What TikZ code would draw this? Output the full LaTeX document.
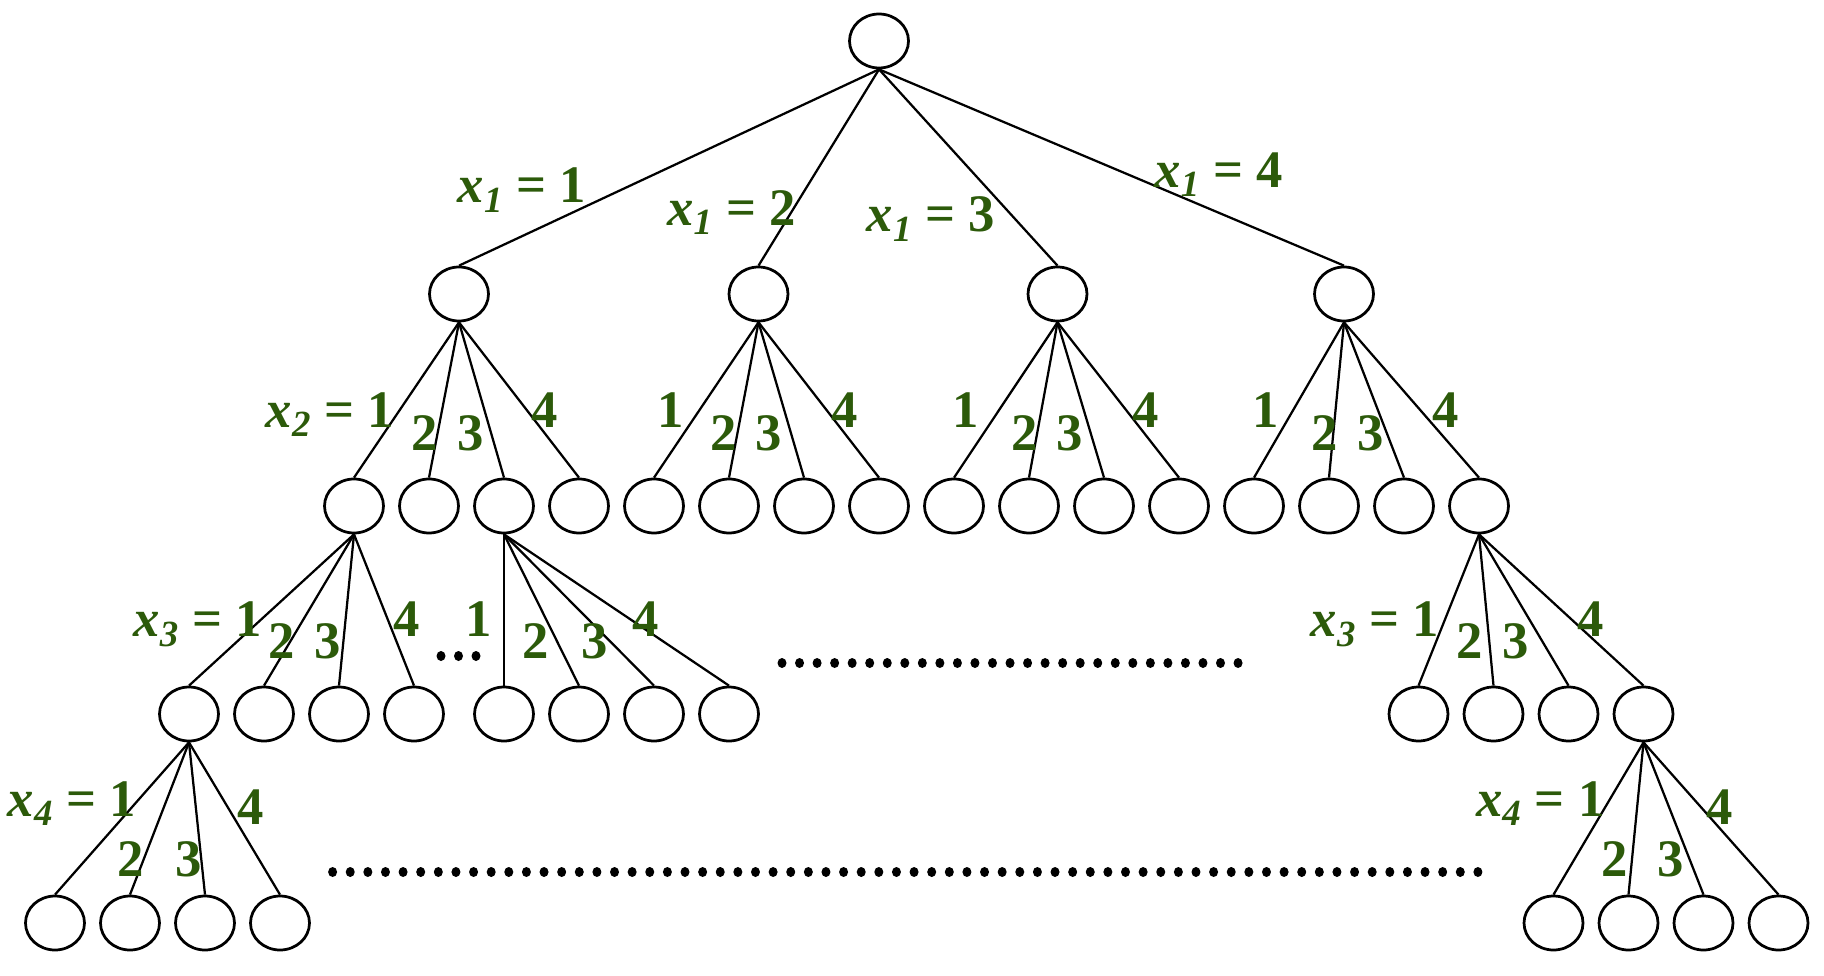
\documentclass[tikz,border=0pt]{standalone}
\usepackage{fontspec}
\setmainfont{Liberation Serif}
\usetikzlibrary{shapes.geometric}
\definecolor{labelgreen}{RGB}{44,90,10}

\tikzset{
    vertex/.style={shape=ellipse,draw=black,line width=0.055cm,minimum width=1.18cm,minimum height=1.08cm,inner sep=0pt},
    branch/.style={line width=0.045cm},
    choice/.style={anchor=base,inner sep=0pt,text=labelgreen,font=\fontsize{30}{36}\selectfont\bfseries},
    gapdot/.style={fill=black}
}
\newcommand{\xeq}[2]{\textit{x}\textsubscript{\textit{#1}} = #2}

\begin{document}
\begin{tikzpicture}[x=0.02cm,y=-0.02cm]
    \useasboundingbox (0,0) rectangle (1824,976);

    % levels of the tree
    \node[vertex] (r) at (879,41) {};
    \node[vertex] (a1) at (459,294) {};
    \node[vertex] (a2) at (758.5,294) {};
    \node[vertex] (a3) at (1057.5,294) {};
    \node[vertex] (a4) at (1344,294) {};
    \foreach \i in {1,...,16}
        \node[vertex] (b\i) at ({354+75*(\i-1)},506) {};
    \foreach \i in {1,...,4} {
        \node[vertex] (c\i) at ({189+75*(\i-1)},714) {};
        \node[vertex] (c\the\numexpr\i+4\relax) at ({504+75*(\i-1)},714) {};
        \node[vertex] (c\the\numexpr\i+8\relax) at ({1418.5+75*(\i-1)},714) {};
        \node[vertex] (d\i) at ({55+75*(\i-1)},923) {};
        \node[vertex] (d\the\numexpr\i+4\relax) at ({1553.5+75*(\i-1)},923) {};
    }

    % branches
    \foreach \i in {1,...,4}
        \path[branch] (r.south) edge (a\i.north);
    \foreach \j in {1,...,4}
        \foreach \i in {1,...,4} {
            \pgfmathtruncatemacro{\k}{4*\j-4+\i}
            \path[branch] (a\j.south) edge (b\k.north);
        }
    \foreach \i in {1,...,4} {
        \path[branch] (b1.south) edge (c\i.north);
        \path[branch] (b3.south) edge (c\the\numexpr\i+4\relax.north);
        \path[branch] (b16.south) edge (c\the\numexpr\i+8\relax.north);
        \path[branch] (c1.south) edge (d\i.north);
        \path[branch] (c12.south) edge (d\the\numexpr\i+4\relax.north);
    }

    % labels x1
    \node[choice] (l11) at (522,203) {\xeq{1}{1}};
    \node[choice] (l12) at (731.5,225.7) {\xeq{1}{2}};
    \node[choice] (l13) at (931,232) {\xeq{1}{3}};
    \node[choice] (l14) at (1218.7,187.5) {\xeq{1}{4}};

    % labels x2
    \node[choice] (l21) at (330,427) {\xeq{2}{1}};
    \node[choice] at (425,450) {2};
    \node[choice] at (470.5,450) {3};
    \node[choice] at (544.5,427) {4};
    \node[choice] at (671,427) {1};
    \node[choice] at (723.5,450) {2};
    \node[choice] at (769,450) {3};
    \node[choice] at (845,427) {4};
    \node[choice] at (966,427) {1};
    \node[choice] at (1025,450) {2};
    \node[choice] at (1070,450) {3};
    \node[choice] at (1146,427) {4};
    \node[choice] at (1266,427) {1};
    \node[choice] at (1325,450) {2};
    \node[choice] at (1370.4,450) {3};
    \node[choice] at (1446,427) {4};

    % labels x3
    \node[choice] (l31) at (197.8,636.7) {\xeq{3}{1}};
    \node[choice] at (282,658) {2};
    \node[choice] at (327.5,658) {3};
    \node[choice] at (406.6,636) {4};
    \node[choice] at (478.5,636.7) {1};
    \node[choice] at (535.7,658) {2};
    \node[choice] at (595,658) {3};
    \node[choice] at (645.2,636) {4};
    \node[choice] (l32) at (1375,636.7) {\xeq{3}{1}};
    \node[choice] at (1470,658) {2};
    \node[choice] at (1515.5,658) {3};
    \node[choice] at (1590.5,636) {4};

    % labels x4
    \node[choice] (l41) at (72,816.7) {\xeq{4}{1}};
    \node[choice] at (130.2,876.7) {2};
    \node[choice] at (188.5,876.7) {3};
    \node[choice] at (250.7,824) {4};
    \node[choice] (l42) at (1540.3,816.7) {\xeq{4}{1}};
    \node[choice] at (1614.7,876.7) {2};
    \node[choice] at (1670.6,876.7) {3};
    \node[choice] at (1720,824) {4};

    % omitted parts
    \foreach \k in {0,1,2}
        \fill[gapdot] (441+17.5*\k,656) ellipse [x radius=0.09cm,y radius=0.1cm];
    \foreach \k in {0,...,26}
        \fill[gapdot] (782+17.54*\k,663) ellipse [x radius=0.09cm,y radius=0.1cm];
    \foreach \k in {0,...,65}
        \fill[gapdot] (332.6+17.62*\k,872) ellipse [x radius=0.09cm,y radius=0.1cm];
\end{tikzpicture}
\end{document}
